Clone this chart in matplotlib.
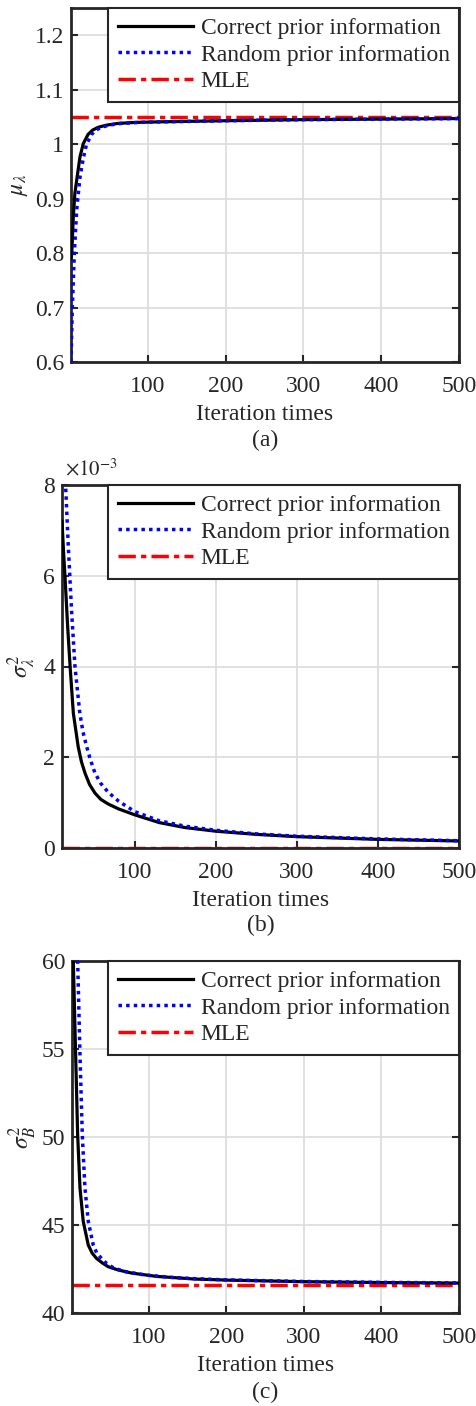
import numpy as np
import matplotlib
matplotlib.use("Agg")
import matplotlib.pyplot as plt
from matplotlib.ticker import FuncFormatter

# ----------------------------------------------------------
# data
# ----------------------------------------------------------
# (a) mu_lambda
iter_a = [1, 2, 4, 6, 9.6, 12.6, 16.8, 23, 29, 36, 47, 61, 85, 117, 200, 300, 400, 500]
mu_correct = [0.79, 0.80, 0.867, 0.91, 0.947, 0.977, 1.001, 1.018, 1.026, 1.031, 1.035,
              1.038, 1.040, 1.041, 1.043, 1.045, 1.046, 1.047]
iter_a_rnd = [1, 2.7, 5.3, 8.3, 12.6, 16.8, 21, 27.6, 33, 40.5, 50, 65, 90, 120, 200, 300, 400, 500]
mu_random = [0.60, 0.70, 0.80, 0.879, 0.94, 0.974, 1.0, 1.018, 1.026, 1.031, 1.035,
             1.038, 1.040, 1.041, 1.043, 1.045, 1.046, 1.047]
mu_mle = 1.049

# (b) sigma^2_lambda
iter_b = [10, 12, 13.7, 17, 20, 24, 30, 34, 38.4, 44, 50.7, 58, 67, 80, 100, 130, 162, 200, 250, 300, 400, 500]
s2l_correct = [7.2e-3, 6.5e-3, 5.98e-3, 4.87e-3, 4.0e-3, 2.97e-3, 2.23e-3, 1.9e-3, 1.65e-3,
               1.4e-3, 1.21e-3, 1.07e-3, 0.97e-3, 0.86e-3, 0.73e-3, 0.56e-3, 0.45e-3,
               0.37e-3, 0.30e-3, 0.25e-3, 0.19e-3, 0.155e-3]
iter_b_rnd = [10, 14.5, 17.8, 22, 26, 32, 36, 40.5, 45, 50.7, 58, 67, 80, 100, 130, 162, 200, 250, 300, 400, 500]
s2l_random = [9.6e-3, 7.96e-3, 6.64e-3, 5.17e-3, 4.0e-3, 2.97e-3, 2.55e-3, 2.23e-3, 1.95e-3,
              1.65e-3, 1.42e-3, 1.23e-3, 1.03e-3, 0.80e-3, 0.60e-3, 0.48e-3, 0.39e-3,
              0.31e-3, 0.26e-3, 0.20e-3, 0.16e-3]
s2l_mle = 0.0

# (c) sigma^2_B
iter_c = [1, 2.7, 5.7, 8.3, 11.3, 15.5, 22, 27, 32.7, 40, 47.7, 60, 77.8, 110, 159, 200, 300, 400, 500]
s2b_correct = [64.0, 59.96, 54.66, 50.1, 47.1, 45.2, 43.86, 43.4, 43.1, 42.85, 42.63, 42.45,
               42.27, 42.08, 41.93, 41.87, 41.78, 41.73, 41.70]
iter_c_rnd = [1, 8.3, 11.3, 14.3, 17.7, 22, 28.4, 33, 39, 46, 55, 70, 95, 130, 159, 200, 300, 400, 500]
s2b_random = [80.0, 60.0, 54.66, 50.1, 47.1, 45.2, 43.86, 43.4, 43.1, 42.8, 42.55, 42.35,
              42.16, 42.02, 41.95, 41.88, 41.79, 41.74, 41.71]
s2b_mle = 41.6

xticks = [100, 200, 300, 400, 500]
yticks_a = [0.6, 0.7, 0.8, 0.9, 1.0, 1.1, 1.2]
ylabels_a = ["0.6", "0.7", "0.8", "0.9", "1", "1.1", "1.2"]
yticks_b = [0, 2e-3, 4e-3, 6e-3, 8e-3]
yticks_c = [40, 45, 50, 55, 60]

# ----------------------------------------------------------
# style
# ----------------------------------------------------------
FS = 17
plt.rcParams['font.family'] = ['Liberation Serif', 'DejaVu Serif']
plt.rcParams['mathtext.fontset'] = 'stix'
plt.rcParams['font.size'] = FS
plt.rcParams['text.color'] = '#262626'
plt.rcParams['xtick.color'] = '#262626'
plt.rcParams['ytick.color'] = '#262626'
plt.rcParams['axes.labelcolor'] = '#262626'

fig = plt.figure(figsize=(4.76, 14.06), dpi=100)

W, H = 476.0, 1406.0
def box(l, t, r, b):
    return [l / W, 1 - b / H, (r - l) / W, (b - t) / H]

ax_a = fig.add_axes(box(71, 8, 459, 362))
ax_b = fig.add_axes(box(62, 485, 459, 848))
ax_c = fig.add_axes(box(72, 961, 459, 1313))


def draw(ax, x1, y1, x2, y2, mle, xmin):
    ax.plot(x1, y1, color='black', lw=2.3, label='Correct prior information', zorder=3)
    ax.plot(x2, y2, color='blue', lw=2.5, ls=(0, (1, 1.2)), label='Random prior information', zorder=4)
    ax.plot([xmin, 500], [mle, mle], color='red', lw=2.5, ls=(0, (5, 1.5, 1.5, 1.5)), label='MLE', zorder=2)
    ax.set_xlim(xmin, 500)
    ax.set_xticks(xticks)
    ax.grid(True, color='#dcdcdc', lw=1.2)
    ax.set_axisbelow(True)
    for s in ax.spines.values():
        s.set_linewidth(2.0)
        s.set_color('#262626')
    ax.tick_params(direction='in', top=True, right=True, length=5, width=1.5, labelsize=FS)
    ax.tick_params(axis='x', pad=10)
    ax.tick_params(axis='y', pad=5)
    ax.set_xlabel('Iteration times', labelpad=5)
    leg = ax.legend(loc='upper right', borderaxespad=0, fancybox=False, handlelength=3.2,
                    fontsize=FS, labelspacing=0.22, borderpad=0.4, handletextpad=0.3)
    leg.get_frame().set_edgecolor('#262626')
    leg.get_frame().set_linewidth(1.5)
    leg.get_frame().set_alpha(1)


draw(ax_a, iter_a, mu_correct, iter_a_rnd, mu_random, mu_mle, 1)
ax_a.set_ylim(0.6, 1.25)
ax_a.set_yticks(yticks_a)
ax_a.set_yticklabels(ylabels_a)
ax_a.set_ylabel(r'$\mu_\lambda$', labelpad=3)

draw(ax_b, iter_b, s2l_correct, iter_b_rnd, s2l_random, s2l_mle, 10)
ax_b.set_ylim(0, 8e-3)
ax_b.set_yticks(yticks_b)
ax_b.yaxis.set_major_formatter(FuncFormatter(lambda v, p: f"{v * 1e3:g}"))
ax_b.text(0.008, 1.012, r'$\times10^{-3}$', transform=ax_b.transAxes, fontsize=15,
          ha='left', va='bottom')
ax_b.set_ylabel(r'$\sigma^2_\lambda$', labelpad=4)

draw(ax_c, iter_c, s2b_correct, iter_c_rnd, s2b_random, s2b_mle, 1)
ax_c.set_ylim(40, 60)
ax_c.set_yticks(yticks_c)
ax_c.set_ylabel(r'$\sigma^2_B$', labelpad=2)

# panel captions
fig.text(265 / W, 1 - 440 / H, '(a)', ha='center', va='center', fontsize=FS)
fig.text(261 / W, 1 - 925 / H, '(b)', ha='center', va='center', fontsize=FS)
fig.text(265 / W, 1 - 1392 / H, '(c)', ha='center', va='center', fontsize=FS)

fig.savefig('out.png', dpi=100)
